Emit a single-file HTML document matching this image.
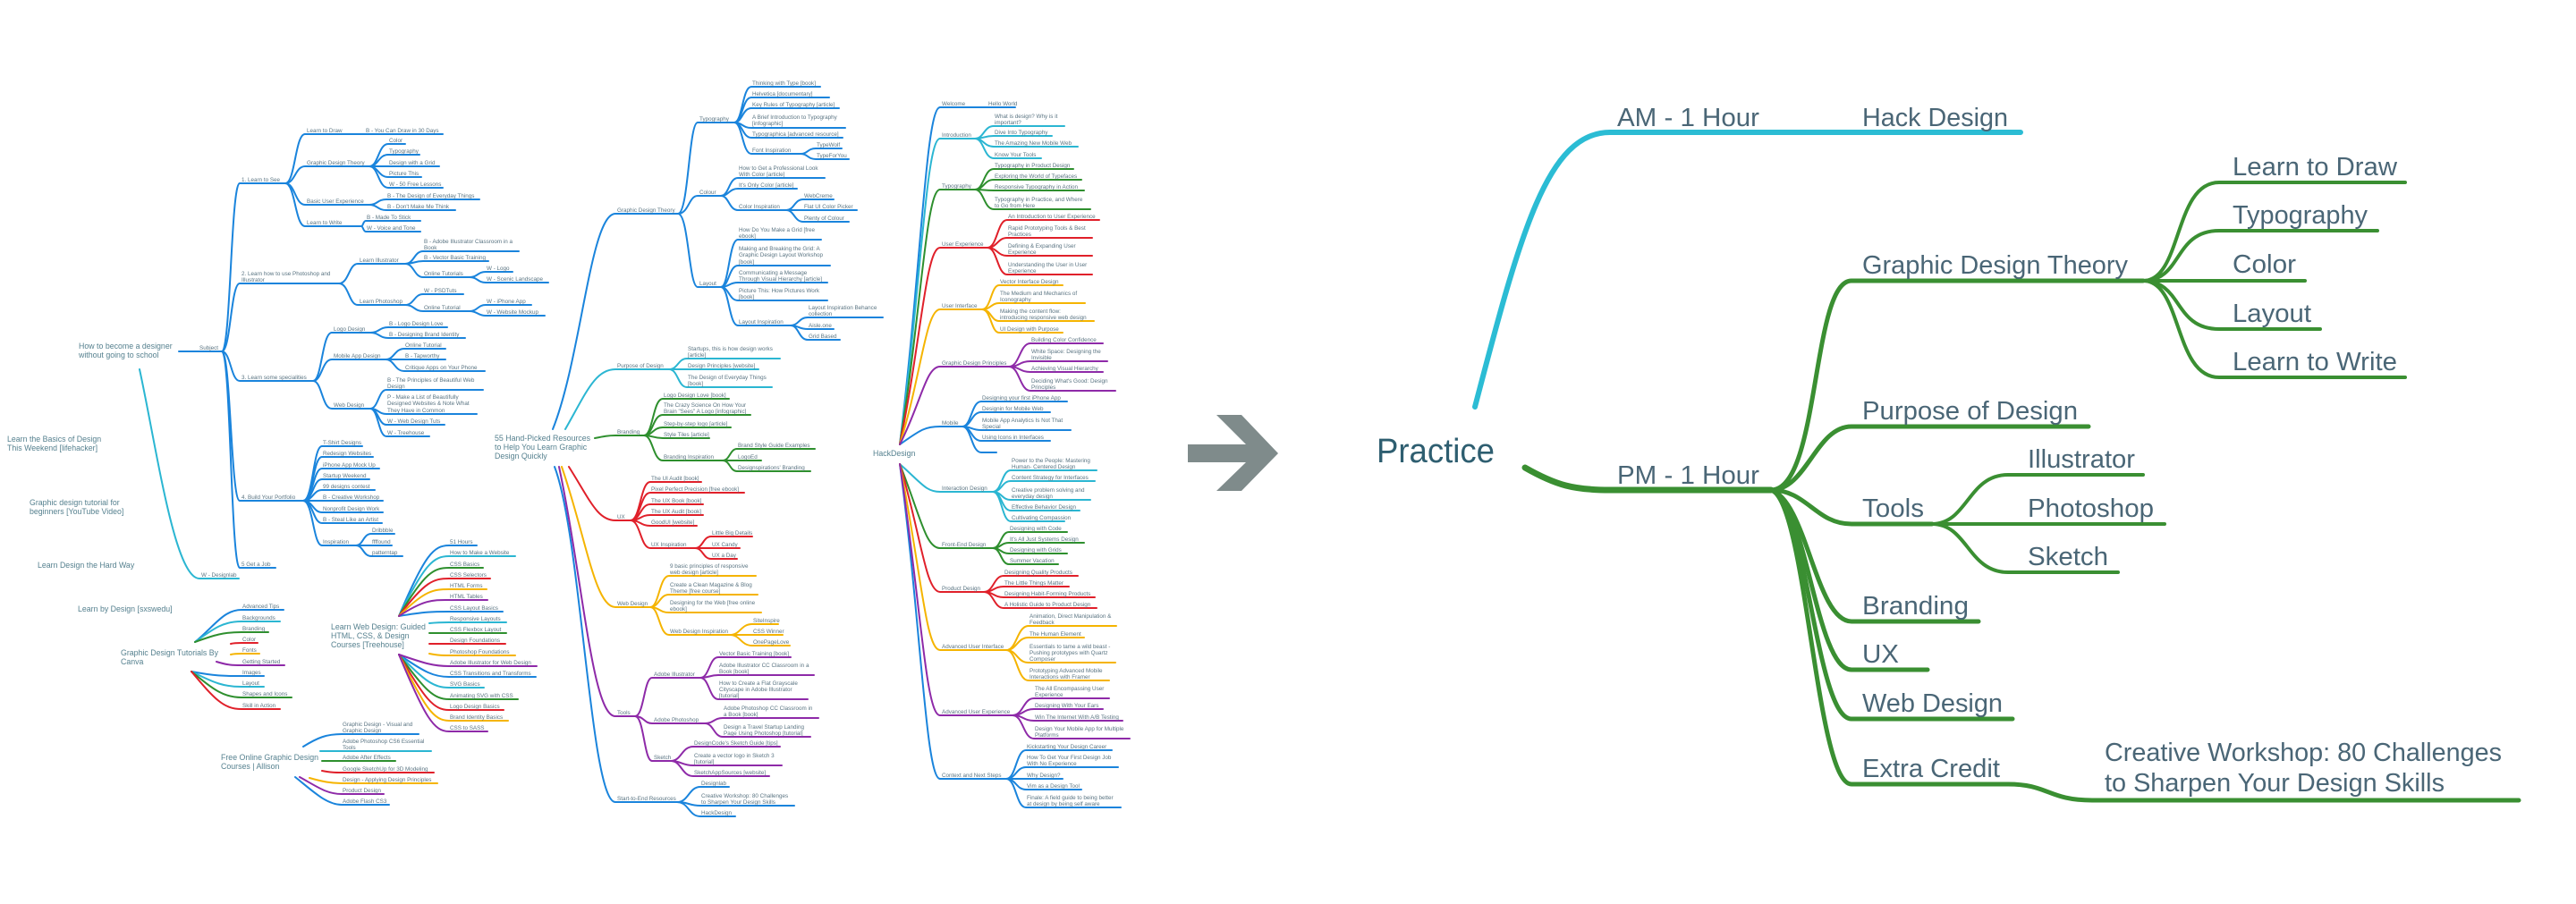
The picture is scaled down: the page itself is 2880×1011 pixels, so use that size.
<!DOCTYPE html>
<html><head><meta charset="utf-8"><style>
html,body{margin:0;padding:0;background:#fff;width:2880px;height:1011px;overflow:hidden}
svg{display:block;font-family:"Liberation Sans",sans-serif}
path{fill:none;stroke-width:2;stroke-linecap:round}
.b path{stroke:#1a84dc}.c path{stroke:#2bb6d2}.g path{stroke:#2e8f2e}.r path{stroke:#e0202a}.o path{stroke:#f5b400}.p path{stroke:#8e2aa8}
text{fill:#5a7482;font-size:6.3px}
.m{font-size:8.8px;fill:#56818f}
.L text{fill:#4a6676;font-size:29px}
</style></head><body>
<svg width="2880" height="1011" viewBox="0 0 2880 1011" xmlns="http://www.w3.org/2000/svg">
<!-- standalone labels -->
<text class="m" x="88" y="390">How to become a designer</text><text class="m" x="88" y="400">without going to school</text>
<text class="m" x="8" y="494">Learn the Basics of Design</text><text class="m" x="8" y="504">This Weekend [lifehacker]</text>
<text class="m" x="33" y="565">Graphic design tutorial for</text><text class="m" x="33" y="575">beginners [YouTube Video]</text>
<text class="m" x="42" y="635">Learn Design the Hard Way</text>
<text class="m" x="87" y="684">Learn by Design [sxswedu]</text>
<text class="m" x="135" y="733">Graphic Design Tutorials By</text><text class="m" x="135" y="743">Canva</text>
<text class="m" x="370" y="704">Learn Web Design: Guided</text><text class="m" x="370" y="714">HTML, CSS, &amp; Design</text><text class="m" x="370" y="724">Courses [Treehouse]</text>
<text class="m" x="247" y="850">Free Online Graphic Design</text><text class="m" x="247" y="860">Courses | Allison</text>
<text class="m" x="553" y="493">55 Hand-Picked Resources</text><text class="m" x="553" y="503">to Help You Learn Graphic</text><text class="m" x="553" y="513">Design Quickly</text>
<text class="m" x="976" y="510">HackDesign</text>

<!-- Tree 1 -->
<g class="b">
<path d="M200 393H248"/><text x="223" y="391">Subject</text>
<path d="M248 393C258 393 258 205 268 205H319"/><text x="270" y="203">1. Learn to See</text>
<path d="M248 393C258 393 258 317 268 317H379"/><text x="270" y="308">2. Learn how to use Photoshop and</text><text x="270" y="315">Illustrator</text>
<path d="M248 393C258 393 258 426 268 426H350"/><text x="270" y="424">3. Learn some specialities</text>
<path d="M248 393C258 393 258 560 268 560H339"/><text x="270" y="558">4. Build Your Portfolio</text>
<path d="M248 393C258 393 258 635 268 635H308"/><text x="270" y="633">5 Get a Job</text>

<path d="M319 205C330 205 330 150 341 150H495"/><text x="343" y="148">Learn to Draw</text><text x="409" y="148">B - You Can Draw in 30 Days</text>
<path d="M319 205C330 205 330 186 341 186H413"/><text x="343" y="184">Graphic Design Theory</text>
<path d="M413 186C423 186 423 161 434 161H453"/><text x="435" y="159">Color</text>
<path d="M413 186C423 186 423 173 434 173H469"/><text x="435" y="171">Typography</text>
<path d="M413 186H491"/><text x="435" y="184">Design with a Grid</text>
<path d="M413 186C423 186 423 198 434 198H471"/><text x="435" y="196">Picture This</text>
<path d="M413 186C423 186 423 210 434 210H495"/><text x="435" y="208">W - 50 Free Lessons</text>
<path d="M319 205C330 205 330 229 341 229H413"/><text x="343" y="227">Basic User Experience</text>
<path d="M413 229C422 229 422 223 432 223H536"/><text x="433" y="221">B - The Design of Everyday Things</text>
<path d="M413 229C422 229 422 235 432 235H509"/><text x="433" y="233">B - Don't Make Me Think</text>
<path d="M319 205C330 205 330 253 341 253H404"/><text x="343" y="251">Learn to Write</text>
<path d="M404 253C406 253 406 247 409 247H470"/><text x="410" y="245">B - Made To Stick</text>
<path d="M404 253C406 253 406 259 409 259H470"/><text x="410" y="257">W - Voice and Tone</text>

<path d="M379 317C390 317 390 295 400 295H453"/><text x="402" y="293">Learn Illustrator</text>
<path d="M453 295C463 295 463 281 473 281H580"/><text x="474" y="272">B - Adobe Illustrator Classroom in a</text><text x="474" y="279">Book</text>
<path d="M453 295C463 295 463 292 473 292H546"/><text x="474" y="290">B - Vector Basic Training</text>
<path d="M453 295C463 295 463 310 473 310H525"/><text x="474" y="308">Online Tutorials</text>
<path d="M525 310C534 310 534 304 543 304H573"/><text x="544" y="302">W - Logo</text>
<path d="M525 310C534 310 534 316 543 316H613"/><text x="544" y="314">W - Scenic Landscape</text>
<path d="M379 317C390 317 390 341 400 341H453"/><text x="402" y="339">Learn Photoshop</text>
<path d="M453 341C463 341 463 329 473 329H518"/><text x="474" y="327">W - PSDTuts</text>
<path d="M453 341C463 341 463 348 473 348H525"/><text x="474" y="346">Online Tutorial</text>
<path d="M525 348C534 348 534 341 543 341H594"/><text x="544" y="339">W - iPhone App</text>
<path d="M525 348C534 348 534 353 543 353H609"/><text x="544" y="351">W - Website Mockup</text>

<path d="M350 426C360 426 360 372 371 372H414"/><text x="373" y="370">Logo Design</text>
<path d="M414 372C424 372 424 366 434 366H500"/><text x="435" y="364">B - Logo Design Love</text>
<path d="M414 372C424 372 424 378 434 378H520"/><text x="435" y="376">B - Designing Brand Identity</text>
<path d="M350 426C360 426 360 402 371 402H431"/><text x="373" y="400">Mobile App Design</text>
<path d="M431 402C441 402 441 390 452 390H498"/><text x="453" y="388">Online Tutorial</text>
<path d="M431 402H498"/><text x="453" y="400">B - Tapworthy</text>
<path d="M431 402C441 402 441 415 452 415H542"/><text x="453" y="413">Critique Apps on Your Phone</text>
<path d="M350 426C360 426 360 457 371 457H414"/><text x="373" y="455">Web Design</text>
<path d="M414 457C423 457 423 436 432 436H540"/><text x="433" y="427">B - The Principles of Beautiful Web</text><text x="433" y="434">Design</text>
<path d="M414 457C423 457 423 463 432 463H533"/><text x="433" y="446">P - Make a List of Beautifully</text><text x="433" y="453">Designed Websites &amp; Note What</text><text x="433" y="461">They Have in Common</text>
<path d="M414 457C423 457 423 475 432 475H497"/><text x="433" y="473">W - Web Design Tuts</text>
<path d="M414 457C423 457 423 488 432 488H480"/><text x="433" y="486">W - Treehouse</text>

<path d="M339 560C350 560 350 499 360 499H405"/><text x="361" y="497">T-Shirt Designs</text>
<path d="M339 560C350 560 350 511 360 511H417"/><text x="361" y="509">Redesign Websites</text>
<path d="M339 560C350 560 350 524 360 524H424"/><text x="361" y="522">iPhone App Mock Up</text>
<path d="M339 560C350 560 350 536 360 536H413"/><text x="361" y="534">Startup Weekend</text>
<path d="M339 560C350 560 350 548 360 548H419"/><text x="361" y="546">99 designs contest</text>
<path d="M339 560H428"/><text x="361" y="558">B - Creative Workshop</text>
<path d="M339 560C350 560 350 573 360 573H428"/><text x="361" y="571">Nonprofit Design Work</text>
<path d="M339 560C350 560 350 585 360 585H427"/><text x="361" y="583">B - Steal Like an Artist</text>
<path d="M339 560C350 560 350 610 360 610H398"/><text x="361" y="608">Inspiration</text>
<path d="M398 610C406 610 406 597 415 597H441"/><text x="416" y="595">Dribbble</text>
<path d="M398 610H438"/><text x="416" y="608">ffffound</text>
<path d="M398 610C406 610 406 622 415 622H450"/><text x="416" y="620">patterntap</text>
</g>
<g class="c"><path d="M156 413C175 500 195 647 223 647H267"/><text x="225" y="645">W - Designlab</text></g>

<!-- Canva -->
<g class="b"><path d="M218 718C240 700 250 682 270 682H317"/><path d="M214 751C240 756 250 756 270 756H295"/></g>
<g class="c"><path d="M218 718C240 702 250 695 270 695H313"/><path d="M214 751C240 764 250 768 270 768H295"/></g>
<g class="g"><path d="M218 718C240 710 250 707 270 707H300"/><path d="M214 751C240 772 250 780 270 780H326"/></g>
<g class="r"><path d="M258 720C262 719 265 719 270 719H288"/><path d="M214 751C240 782 250 793 270 793H313"/></g>
<g class="o"><path d="M258 732C262 731 265 731 270 731H290"/></g>
<g class="p"><path d="M242 740C255 744 260 744 270 744H318"/></g>
<text x="271" y="680">Advanced Tips</text><text x="271" y="693">Backgrounds</text><text x="271" y="705">Branding</text><text x="271" y="717">Color</text><text x="271" y="729">Fonts</text><text x="271" y="742">Getting Started</text><text x="271" y="754">Images</text><text x="271" y="766">Layout</text><text x="271" y="778">Shapes and Icons</text><text x="271" y="791">Skill in Action</text>

<!-- Treehouse -->
<g class="b"><path d="M446 689C475 620 485 610 502 610H533"/><path d="M446 689C475 684 485 684 502 684H562"/><path d="M446 732C475 752 485 757 502 757H599"/></g>
<g class="c"><path d="M446 689C475 630 485 622 502 622H576"/><path d="M480 697C490 696 495 696 502 696H566"/><path d="M446 732C475 762 485 769 502 769H541"/></g>
<g class="g"><path d="M446 689C475 640 485 635 502 635H540"/><path d="M480 708H566"/><path d="M446 732C475 772 485 782 502 782H579"/></g>
<g class="r"><path d="M446 689C475 650 485 647 502 647H548"/><path d="M480 720H565"/><path d="M446 732C475 782 485 794 502 794H563"/></g>
<g class="o"><path d="M446 689C475 660 485 659 502 659H544"/><path d="M480 731C490 733 495 733 502 733H576"/><path d="M446 732C475 792 485 806 502 806H568"/></g>
<g class="p"><path d="M446 689C475 670 485 671 502 671H545"/><path d="M446 732C475 742 485 745 502 745H600"/><path d="M446 732C475 802 485 818 502 818H545"/></g>
<text x="503" y="608">51 Hours</text><text x="503" y="620">How to Make a Website</text><text x="503" y="633">CSS Basics</text><text x="503" y="645">CSS Selectors</text><text x="503" y="657">HTML Forms</text><text x="503" y="669">HTML Tables</text><text x="503" y="682">CSS Layout Basics</text><text x="503" y="694">Responsive Layouts</text><text x="503" y="706">CSS Flexbox Layout</text><text x="503" y="718">Design Foundations</text><text x="503" y="731">Photoshop Foundations</text><text x="503" y="743">Adobe Illustrator for Web Design</text><text x="503" y="755">CSS Transitions and Transforms</text><text x="503" y="767">SVG Basics</text><text x="503" y="780">Animating SVG with CSS</text><text x="503" y="792">Logo Design Basics</text><text x="503" y="804">Brand Identity Basics</text><text x="503" y="816">CSS to SASS</text>

<!-- Alison -->
<g class="b"><path d="M339 835C355 825 365 821 382 821H468"/><path d="M330 869C350 885 365 900 382 900H435"/></g>
<g class="c"><path d="M358 840H482"/></g>
<g class="g"><path d="M360 851H442"/></g>
<g class="r"><path d="M360 862C370 864 375 864 382 864H485"/></g>
<g class="o"><path d="M346 870C360 874 370 876 382 876H489"/></g>
<g class="p"><path d="M335 869C355 880 365 888 382 888H429"/></g>
<text x="383" y="812">Graphic Design - Visual and</text><text x="383" y="819">Graphic Design</text><text x="383" y="831">Adobe Photoshop CS6 Essential</text><text x="383" y="838">Tools</text><text x="383" y="849">Adobe After Effects</text><text x="383" y="862">Google SketchUp for 3D Modeling</text><text x="383" y="874">Design - Applying Design Principles</text><text x="383" y="886">Product Design</text><text x="383" y="898">Adobe Flash CS3</text>

<!-- 55 resources tree -->
<g class="b">
<path d="M618 480C650 400 660 239 688 239H758"/><text x="690" y="237">Graphic Design Theory</text>
<path d="M758 239C770 239 770 137 780 137H821"/><text x="782" y="135">Typography</text>
<path d="M821 137C830 137 830 97 840 97H917"/><text x="841" y="95">Thinking with Type [book]</text>
<path d="M821 137C830 137 830 109 840 109H927"/><text x="841" y="107">Helvetica [documentary]</text>
<path d="M821 137C830 137 830 121 840 121H938"/><text x="841" y="119">Key Rules of Typography [article]</text>
<path d="M821 137C830 137 830 143 840 143H945"/><text x="841" y="133">A Brief Introduction to Typography</text><text x="841" y="140">[infographic]</text>
<path d="M821 137C830 137 830 154 840 154H942"/><text x="841" y="152">Typographica [advanced resource]</text>
<path d="M821 137C830 137 830 172 840 172H895"/><text x="841" y="170">Font Inspiration</text>
<path d="M895 172C903 172 903 166 912 166H941"/><text x="913" y="164">TypeWolf</text>
<path d="M895 172C903 172 903 178 912 178H949"/><text x="913" y="176">TypeForYou</text>
<path d="M758 239C770 239 770 219 780 219H806"/><text x="782" y="217">Colour</text>
<path d="M806 219C815 219 815 199 825 199H922"/><text x="826" y="190">How to Get a Professional Look</text><text x="826" y="197">With Color [article]</text>
<path d="M806 219C815 219 815 211 825 211H891"/><text x="826" y="209">It's Only Color [article]</text>
<path d="M806 219C815 219 815 235 825 235H879"/><text x="826" y="233">Color Inspiration</text>
<path d="M879 235C888 235 888 223 898 223H932"/><text x="899" y="221">WebCreme</text>
<path d="M879 235H958"/><text x="899" y="233">Flat UI Color Picker</text>
<path d="M879 235C888 235 888 248 898 248H949"/><text x="899" y="246">Plenty of Colour</text>
<path d="M758 239C770 239 770 321 780 321H806"/><text x="782" y="319">Layout</text>
<path d="M806 321C815 321 815 268 825 268H918"/><text x="826" y="259">How Do You Make a Grid [free</text><text x="826" y="266">ebook]</text>
<path d="M806 321C815 321 815 297 825 297H928"/><text x="826" y="280">Making and Breaking the Grid: A</text><text x="826" y="287">Graphic Design Layout Workshop</text><text x="826" y="295">[book]</text>
<path d="M806 321C815 321 815 316 825 316H925"/><text x="826" y="307">Communicating a Message</text><text x="826" y="314">Through Visual Hierarchy [article]</text>
<path d="M806 321C815 321 815 336 825 336H925"/><text x="826" y="327">Picture This: How Pictures Work</text><text x="826" y="334">[book]</text>
<path d="M806 321C815 321 815 364 825 364H884"/><text x="826" y="362">Layout Inspiration</text>
<path d="M884 364C893 364 893 355 903 355H987"/><text x="904" y="346">Layout Inspiration Behance</text><text x="904" y="353">collection</text>
<path d="M884 364C893 364 893 368 903 368H932"/><text x="904" y="366">Aisle.one</text>
<path d="M884 364C893 364 893 380 903 380H939"/><text x="904" y="378">Grid Based</text>
<path d="M620 522C650 600 660 897 688 897H757"/><text x="690" y="895">Start-to-End Resources</text>
<path d="M757 897C770 897 770 880 783 880H815"/><text x="784" y="878">Designlab</text>
<path d="M757 897C770 897 770 901 783 901H888"/><text x="784" y="892">Creative Workshop: 80 Challenges</text><text x="784" y="899">to Sharpen Your Design Skills</text>
<path d="M757 897C770 897 770 913 783 913H822"/><text x="784" y="911">HackDesign</text>
</g>
<g class="c">
<path d="M632 480C655 440 665 413 688 413H748"/><text x="690" y="411">Purpose of Design</text>
<path d="M748 413C758 413 758 401 768 401H872"/><text x="769" y="392">Startups, this is how design works</text><text x="769" y="399">[article]</text>
<path d="M748 413H848"/><text x="769" y="411">Design Principles [website]</text>
<path d="M748 413C758 413 758 433 768 433H863"/><text x="769" y="424">The Design of Everyday Things</text><text x="769" y="431">[book]</text>
</g>
<g class="g">
<path d="M665 490C675 488 680 487 688 487H720"/><text x="690" y="485">Branding</text>
<path d="M720 487C730 487 730 446 741 446H815"/><text x="742" y="444">Logo Design Love [book]</text>
<path d="M720 487C730 487 730 464 741 464H839"/><text x="742" y="455">The Crazy Science On How Your</text><text x="742" y="462">Brain "Sees" A Logo [infographic]</text>
<path d="M720 487C730 487 730 478 741 478H817"/><text x="742" y="476">Step-by-step logo [article]</text>
<path d="M720 487C730 487 730 490 741 490H793"/><text x="742" y="488">Style Tiles [article]</text>
<path d="M720 487C730 487 730 515 741 515H808"/><text x="742" y="513">Branding Inspiration</text>
<path d="M808 515C816 515 816 502 824 502H911"/><text x="825" y="500">Brand Style Guide Examples</text>
<path d="M808 515H851"/><text x="825" y="513">LogoEd</text>
<path d="M808 515C816 515 816 527 824 527H906"/><text x="825" y="525">Designspirations' Branding</text>
</g>
<g class="r">
<path d="M636 522C660 560 668 582 688 582H705"/><text x="690" y="580">UX</text>
<path d="M705 582C716 582 716 539 727 539H784"/><text x="728" y="537">The UI Audit [book]</text>
<path d="M705 582C716 582 716 551 727 551H832"/><text x="728" y="549">Pixel Perfect Precision [free ebook]</text>
<path d="M705 582C716 582 716 564 727 564H786"/><text x="728" y="562">The UX Book [book]</text>
<path d="M705 582C716 582 716 576 727 576H786"/><text x="728" y="574">The UX Audit [book]</text>
<path d="M705 582C716 582 716 588 727 588H779"/><text x="728" y="586">GoodUI [website]</text>
<path d="M705 582C716 582 716 613 727 613H777"/><text x="728" y="611">UX Inspiration</text>
<path d="M777 613C786 613 786 600 795 600H841"/><text x="796" y="598">Little Big Details</text>
<path d="M777 613H827"/><text x="796" y="611">UX Candy</text>
<path d="M777 613C786 613 786 625 795 625H824"/><text x="796" y="623">UX a Day</text>
</g>
<g class="o">
<path d="M628 522C655 600 665 679 688 679H727"/><text x="690" y="677">Web Design</text>
<path d="M727 679C737 679 737 644 748 644H845"/><text x="749" y="635">9 basic principles of responsive</text><text x="749" y="642">web design [article]</text>
<path d="M727 679C737 679 737 665 748 665H847"/><text x="749" y="656">Create a Clean Magazine &amp; Blog</text><text x="749" y="663">Theme [free course]</text>
<path d="M727 679C737 679 737 685 748 685H851"/><text x="749" y="676">Designing for the Web [free online</text><text x="749" y="683">ebook]</text>
<path d="M727 679C737 679 737 710 748 710H816"/><text x="749" y="708">Web Design Inspiration</text>
<path d="M816 710C828 710 828 698 841 698H870"/><text x="842" y="696">SiteInspire</text>
<path d="M816 710H875"/><text x="842" y="708">CSS Winner</text>
<path d="M816 710C828 710 828 722 841 722H883"/><text x="842" y="720">OnePageLove</text>
</g>
<g class="p">
<path d="M625 522C652 650 662 801 688 801H710"/><text x="690" y="799">Tools</text>
<path d="M710 801C720 801 720 758 729 758H783"/><text x="731" y="756">Adobe Illustrator</text>
<path d="M783 758C793 758 793 735 803 735H884"/><text x="804" y="733">Vector Basic Training [book]</text>
<path d="M783 758C793 758 793 755 803 755H910"/><text x="804" y="746">Adobe Illustrator CC Classroom in a</text><text x="804" y="753">Book [book]</text>
<path d="M783 758C793 758 793 782 803 782H903"/><text x="804" y="766">How to Create a Flat Grayscale</text><text x="804" y="773">Cityscape in Adobe Illustrator</text><text x="804" y="780">[tutorial]</text>
<path d="M710 801C720 801 720 809 729 809H788"/><text x="731" y="807">Adobe Photoshop</text>
<path d="M788 809C798 809 798 803 808 803H915"/><text x="809" y="794">Adobe Photoshop CC Classroom in</text><text x="809" y="801">a Book [book]</text>
<path d="M788 809C798 809 798 824 808 824H906"/><text x="809" y="815">Design a Travel Startup Landing</text><text x="809" y="822">Page Using Photoshop [tutorial]</text>
<path d="M710 801C720 801 720 851 729 851H750"/><text x="731" y="849">Sketch</text>
<path d="M750 851C762 851 762 835 775 835H872"/><text x="776" y="833">DesignCode's Sketch Guide [tips]</text>
<path d="M750 851C762 851 762 856 775 856H874"/><text x="776" y="847">Create a vector logo in Sketch 3</text><text x="776" y="854">[tutorial]</text>
<path d="M750 851C762 851 762 868 775 868H860"/><text x="776" y="866">SketchAppSources [website]</text>
</g>

<!-- HackDesign tree -->
<g class="b">
<path d="M1006 497C1030 300 1035 120 1051 120H1135"/><text x="1053" y="118">Welcome</text><text x="1105" y="118">Hello World</text>
<path d="M1006 497C1030 480 1035 477 1051 477H1076"/><text x="1053" y="475">Mobile</text>
<path d="M1076 477C1086 477 1086 449 1097 449H1193"/><text x="1098" y="447">Designing your first iPhone App</text>
<path d="M1076 477C1086 477 1086 461 1097 461H1174"/><text x="1098" y="459">Designin for Mobile Web</text>
<path d="M1076 477C1086 477 1086 481 1097 481H1197"/><text x="1098" y="472">Mobile App Analytics Is Not That</text><text x="1098" y="479">Special</text>
<path d="M1076 477C1086 477 1086 493 1097 493H1174"/><text x="1098" y="491">Using Icons in Interfaces</text>
<path d="M1076 477C1086 477 1086 506 1097 506H1114"/>
<path d="M1006 519C1030 700 1035 871 1051 871H1125"/><text x="1053" y="869">Context and Next Steps</text>
<path d="M1125 871C1136 871 1136 839 1147 839H1243"/><text x="1148" y="837">Kickstarting Your Design Career</text>
<path d="M1125 871C1136 871 1136 858 1147 858H1250"/><text x="1148" y="849">How To Get Your First Design Job</text><text x="1148" y="856">With No Experience</text>
<path d="M1125 871H1188"/><text x="1148" y="869">Why Design?</text>
<path d="M1125 871C1136 871 1136 883 1147 883H1209"/><text x="1148" y="881">Vim as a Design Tool</text>
<path d="M1125 871C1136 871 1136 903 1147 903H1253"/><text x="1148" y="894">Finale: A field guide to being better</text><text x="1148" y="901">at design by being self aware</text>
</g>
<g class="c">
<path d="M1006 497C1030 320 1035 155 1051 155H1090"/><text x="1053" y="153">Introduction</text>
<path d="M1090 155C1100 155 1100 141 1111 141H1190"/><text x="1112" y="132">What is design? Why is it</text><text x="1112" y="139">important?</text>
<path d="M1090 155C1100 155 1100 152 1111 152H1176"/><text x="1112" y="150">Dive Into Typography</text>
<path d="M1090 155C1100 155 1100 164 1111 164H1205"/><text x="1112" y="162">The Amazing New Mobile Web</text>
<path d="M1090 155C1100 155 1100 177 1111 177H1164"/><text x="1112" y="175">Know Your Tools</text>
<path d="M1006 519C1030 540 1035 550 1051 550H1110"/><text x="1053" y="548">Interaction Design</text>
<path d="M1110 550C1120 550 1120 526 1130 526H1226"/><text x="1131" y="517">Power to the People: Mastering</text><text x="1131" y="524">Human- Centered Design</text>
<path d="M1110 550C1120 550 1120 538 1130 538H1224"/><text x="1131" y="536">Content Strategy for Interfaces</text>
<path d="M1110 550C1120 550 1120 559 1130 559H1219"/><text x="1131" y="550">Creative problem solving and</text><text x="1131" y="557">everyday design</text>
<path d="M1110 550C1120 550 1120 571 1130 571H1207"/><text x="1131" y="569">Effective Behavior Design</text>
<path d="M1110 550C1120 550 1120 583 1130 583H1190"/><text x="1131" y="581">Cultivating Compassion</text>
</g>
<g class="g">
<path d="M1006 497C1030 350 1035 212 1051 212H1090"/><text x="1053" y="210">Typography</text>
<path d="M1090 212C1100 212 1100 189 1111 189H1200"/><text x="1112" y="187">Typography in Product Design</text>
<path d="M1090 212C1100 212 1100 201 1111 201H1209"/><text x="1112" y="199">Exploring the World of Typefaces</text>
<path d="M1090 212C1100 212 1100 213 1111 213H1212"/><text x="1112" y="211">Responsive Typography in Action</text>
<path d="M1090 212C1100 212 1100 234 1111 234H1219"/><text x="1112" y="225">Typography in Practice, and Where</text><text x="1112" y="232">to Go from Here</text>
<path d="M1006 519C1030 580 1035 613 1051 613H1110"/><text x="1053" y="611">Front-End Design</text>
<path d="M1110 613C1119 613 1119 595 1128 595H1193"/><text x="1129" y="593">Designing with Code</text>
<path d="M1110 613C1119 613 1119 607 1128 607H1212"/><text x="1129" y="605">It's All Just Systems Design</text>
<path d="M1110 613C1119 613 1119 619 1128 619H1193"/><text x="1129" y="617">Designing with Grids</text>
<path d="M1110 613C1119 613 1119 631 1128 631H1183"/><text x="1129" y="629">Summer Vacation</text>
</g>
<g class="r">
<path d="M1006 497C1030 380 1035 277 1051 277H1104"/><text x="1053" y="275">User Experience</text>
<path d="M1104 277C1115 277 1115 246 1126 246H1229"/><text x="1127" y="244">An Introduction to User Experience</text>
<path d="M1104 277C1115 277 1115 266 1126 266H1221"/><text x="1127" y="257">Rapid Prototyping Tools &amp; Best</text><text x="1127" y="264">Practices</text>
<path d="M1104 277C1115 277 1115 286 1126 286H1221"/><text x="1127" y="277">Defining &amp; Expanding User</text><text x="1127" y="284">Experience</text>
<path d="M1104 277C1115 277 1115 307 1126 307H1221"/><text x="1127" y="298">Understanding the User in User</text><text x="1127" y="305">Experience</text>
<path d="M1006 519C1030 600 1035 662 1051 662H1100"/><text x="1053" y="660">Product Design</text>
<path d="M1100 662C1111 662 1111 644 1122 644H1205"/><text x="1123" y="642">Designing Quality Products</text>
<path d="M1100 662C1111 662 1111 656 1122 656H1195"/><text x="1123" y="654">The Little Things Matter</text>
<path d="M1100 662C1111 662 1111 668 1122 668H1224"/><text x="1123" y="666">Designing Habit-Forming Products</text>
<path d="M1100 662C1111 662 1111 680 1122 680H1226"/><text x="1123" y="678">A Holistic Guide to Product Design</text>
</g>
<g class="o">
<path d="M1006 497C1030 420 1035 346 1051 346H1098"/><text x="1053" y="344">User Interface</text>
<path d="M1098 346C1108 346 1108 319 1117 319H1188"/><text x="1118" y="317">Vector Interface Design</text>
<path d="M1098 346C1108 346 1108 339 1117 339H1213"/><text x="1118" y="330">The Medium and Mechanics of</text><text x="1118" y="337">Iconography</text>
<path d="M1098 346C1108 346 1108 359 1117 359H1223"/><text x="1118" y="350">Making the content flow:</text><text x="1118" y="357">introducing responsive web design</text>
<path d="M1098 346C1108 346 1108 372 1117 372H1188"/><text x="1118" y="370">UI Design with Purpose</text>
<path d="M1006 519C1030 640 1035 727 1051 727H1125"/><text x="1053" y="725">Advanced User Interface</text>
<path d="M1125 727C1137 727 1137 700 1150 700H1248"/><text x="1151" y="691">Animation, Direct Manipulation &amp;</text><text x="1151" y="698">Feedback</text>
<path d="M1125 727C1137 727 1137 713 1150 713H1212"/><text x="1151" y="711">The Human Element</text>
<path d="M1125 727C1137 727 1137 741 1150 741H1247"/><text x="1151" y="725">Essentials to tame a wild beast -</text><text x="1151" y="732">Pushing prototypes with Quartz</text><text x="1151" y="739">Composer</text>
<path d="M1125 727C1137 727 1137 761 1150 761H1240"/><text x="1151" y="752">Prototyping Advanced Mobile</text><text x="1151" y="759">Interactions with Framer</text>
</g>
<g class="p">
<path d="M1006 497C1030 450 1035 410 1051 410H1128"/><text x="1053" y="408">Graphic Design Principles</text>
<path d="M1128 410C1140 410 1140 384 1152 384H1233"/><text x="1153" y="382">Building Color Confidence</text>
<path d="M1128 410C1140 410 1140 404 1152 404H1238"/><text x="1153" y="395">White Space: Designing the</text><text x="1153" y="402">Invisible</text>
<path d="M1128 410C1140 410 1140 416 1152 416H1233"/><text x="1153" y="414">Achieving Visual Hierarchy</text>
<path d="M1128 410C1140 410 1140 437 1152 437H1247"/><text x="1153" y="428">Deciding What's Good: Design</text><text x="1153" y="435">Principles</text>
<path d="M1006 519C1030 680 1035 800 1051 800H1132"/><text x="1053" y="798">Advanced User Experience</text>
<path d="M1132 800C1144 800 1144 781 1156 781H1240"/><text x="1157" y="772">The All Encompassing User</text><text x="1157" y="779">Experience</text>
<path d="M1132 800C1144 800 1144 793 1156 793H1233"/><text x="1157" y="791">Designing With Your Ears</text>
<path d="M1132 800C1144 800 1144 806 1156 806H1255"/><text x="1157" y="804">Win The Internet With A/B Testing</text>
<path d="M1132 800C1144 800 1144 826 1156 826H1263"/><text x="1157" y="817">Design Your Mobile App for Multiple</text><text x="1157" y="824">Platforms</text>
</g>

<!-- Arrow -->
<polygon points="1328,497 1393,497 1360,464 1388,464 1429,507 1388,549 1360,549 1393,517 1328,517" fill="#7f8b8b"/>

<!-- Right mindmap -->
<text x="1539" y="517" font-size="38" textLength="132" lengthAdjust="spacingAndGlyphs" style="fill:#2e5e70;font-size:38px">Practice</text>
<path d="M1649 455C1700 260 1730 148 1800 148H2259" style="stroke:#2bbcd4;stroke-width:6"/>
<g style="stroke:#3a8f32">
<path d="M1705 523C1740 543 1760 548 1800 548H1980" style="stroke:#3a8f32;stroke-width:7"/>
<path d="M1980 548C2035 548 2025 314 2070 314H2396" style="stroke:#3a8f32;stroke-width:5"/>
<path d="M2396 314C2440 314 2430 204 2481 204H2689" style="stroke:#3a8f32;stroke-width:4"/>
<path d="M2396 314C2440 314 2430 258 2481 258H2658" style="stroke:#3a8f32;stroke-width:4"/>
<path d="M2396 314H2577" style="stroke:#3a8f32;stroke-width:4"/>
<path d="M2396 314C2440 314 2430 368 2481 368H2594" style="stroke:#3a8f32;stroke-width:4"/>
<path d="M2396 314C2440 314 2430 422 2481 422H2689" style="stroke:#3a8f32;stroke-width:4"/>
<path d="M1980 548C2020 548 2030 477 2070 477H2335" style="stroke:#3a8f32;stroke-width:5"/>
<path d="M1980 548C2020 548 2030 586 2070 586H2160" style="stroke:#3a8f32;stroke-width:5"/>
<path d="M2160 586C2200 586 2200 531 2245 531H2396" style="stroke:#3a8f32;stroke-width:4"/>
<path d="M2160 586H2420" style="stroke:#3a8f32;stroke-width:4"/>
<path d="M2160 586C2200 586 2200 640 2245 640H2368" style="stroke:#3a8f32;stroke-width:4"/>
<path d="M1980 548C2020 560 2030 695 2070 695H2212" style="stroke:#3a8f32;stroke-width:5"/>
<path d="M1980 548C2020 560 2030 749 2070 749H2155" style="stroke:#3a8f32;stroke-width:5"/>
<path d="M1980 548C2020 560 2030 804 2070 804H2250" style="stroke:#3a8f32;stroke-width:5"/>
<path d="M1980 548C2020 560 2030 877 2070 877H2245C2290 877 2290 895 2339 895H2816" style="stroke:#3a8f32;stroke-width:5"/>
</g>
<g class="L">
<text x="1808" y="141" textLength="159" lengthAdjust="spacingAndGlyphs">AM - 1 Hour</text>
<text x="2082" y="141" textLength="163" lengthAdjust="spacingAndGlyphs">Hack Design</text>
<text x="1808" y="541" textLength="159" lengthAdjust="spacingAndGlyphs">PM - 1 Hour</text>
<text x="2082" y="306" textLength="297" lengthAdjust="spacingAndGlyphs">Graphic Design Theory</text>
<text x="2496" y="196" textLength="184" lengthAdjust="spacingAndGlyphs">Learn to Draw</text>
<text x="2496" y="250" textLength="151" lengthAdjust="spacingAndGlyphs">Typography</text>
<text x="2496" y="305" textLength="71" lengthAdjust="spacingAndGlyphs">Color</text>
<text x="2496" y="360" textLength="88" lengthAdjust="spacingAndGlyphs">Layout</text>
<text x="2496" y="414" textLength="184" lengthAdjust="spacingAndGlyphs">Learn to Write</text>
<text x="2082" y="469" textLength="241" lengthAdjust="spacingAndGlyphs">Purpose of Design</text>
<text x="2082" y="578" textLength="69" lengthAdjust="spacingAndGlyphs">Tools</text>
<text x="2267" y="523" textLength="120" lengthAdjust="spacingAndGlyphs">Illustrator</text>
<text x="2267" y="578" textLength="141" lengthAdjust="spacingAndGlyphs">Photoshop</text>
<text x="2267" y="632" textLength="90" lengthAdjust="spacingAndGlyphs">Sketch</text>
<text x="2082" y="687" textLength="119" lengthAdjust="spacingAndGlyphs">Branding</text>
<text x="2082" y="741" textLength="41" lengthAdjust="spacingAndGlyphs">UX</text>
<text x="2082" y="796" textLength="157" lengthAdjust="spacingAndGlyphs">Web Design</text>
<text x="2082" y="869" textLength="154" lengthAdjust="spacingAndGlyphs">Extra Credit</text>
<text x="2353" y="851" textLength="444" lengthAdjust="spacingAndGlyphs">Creative Workshop: 80 Challenges</text>
<text x="2353" y="885" textLength="380" lengthAdjust="spacingAndGlyphs">to Sharpen Your Design Skills</text>
</g>
</svg>
</body></html>
